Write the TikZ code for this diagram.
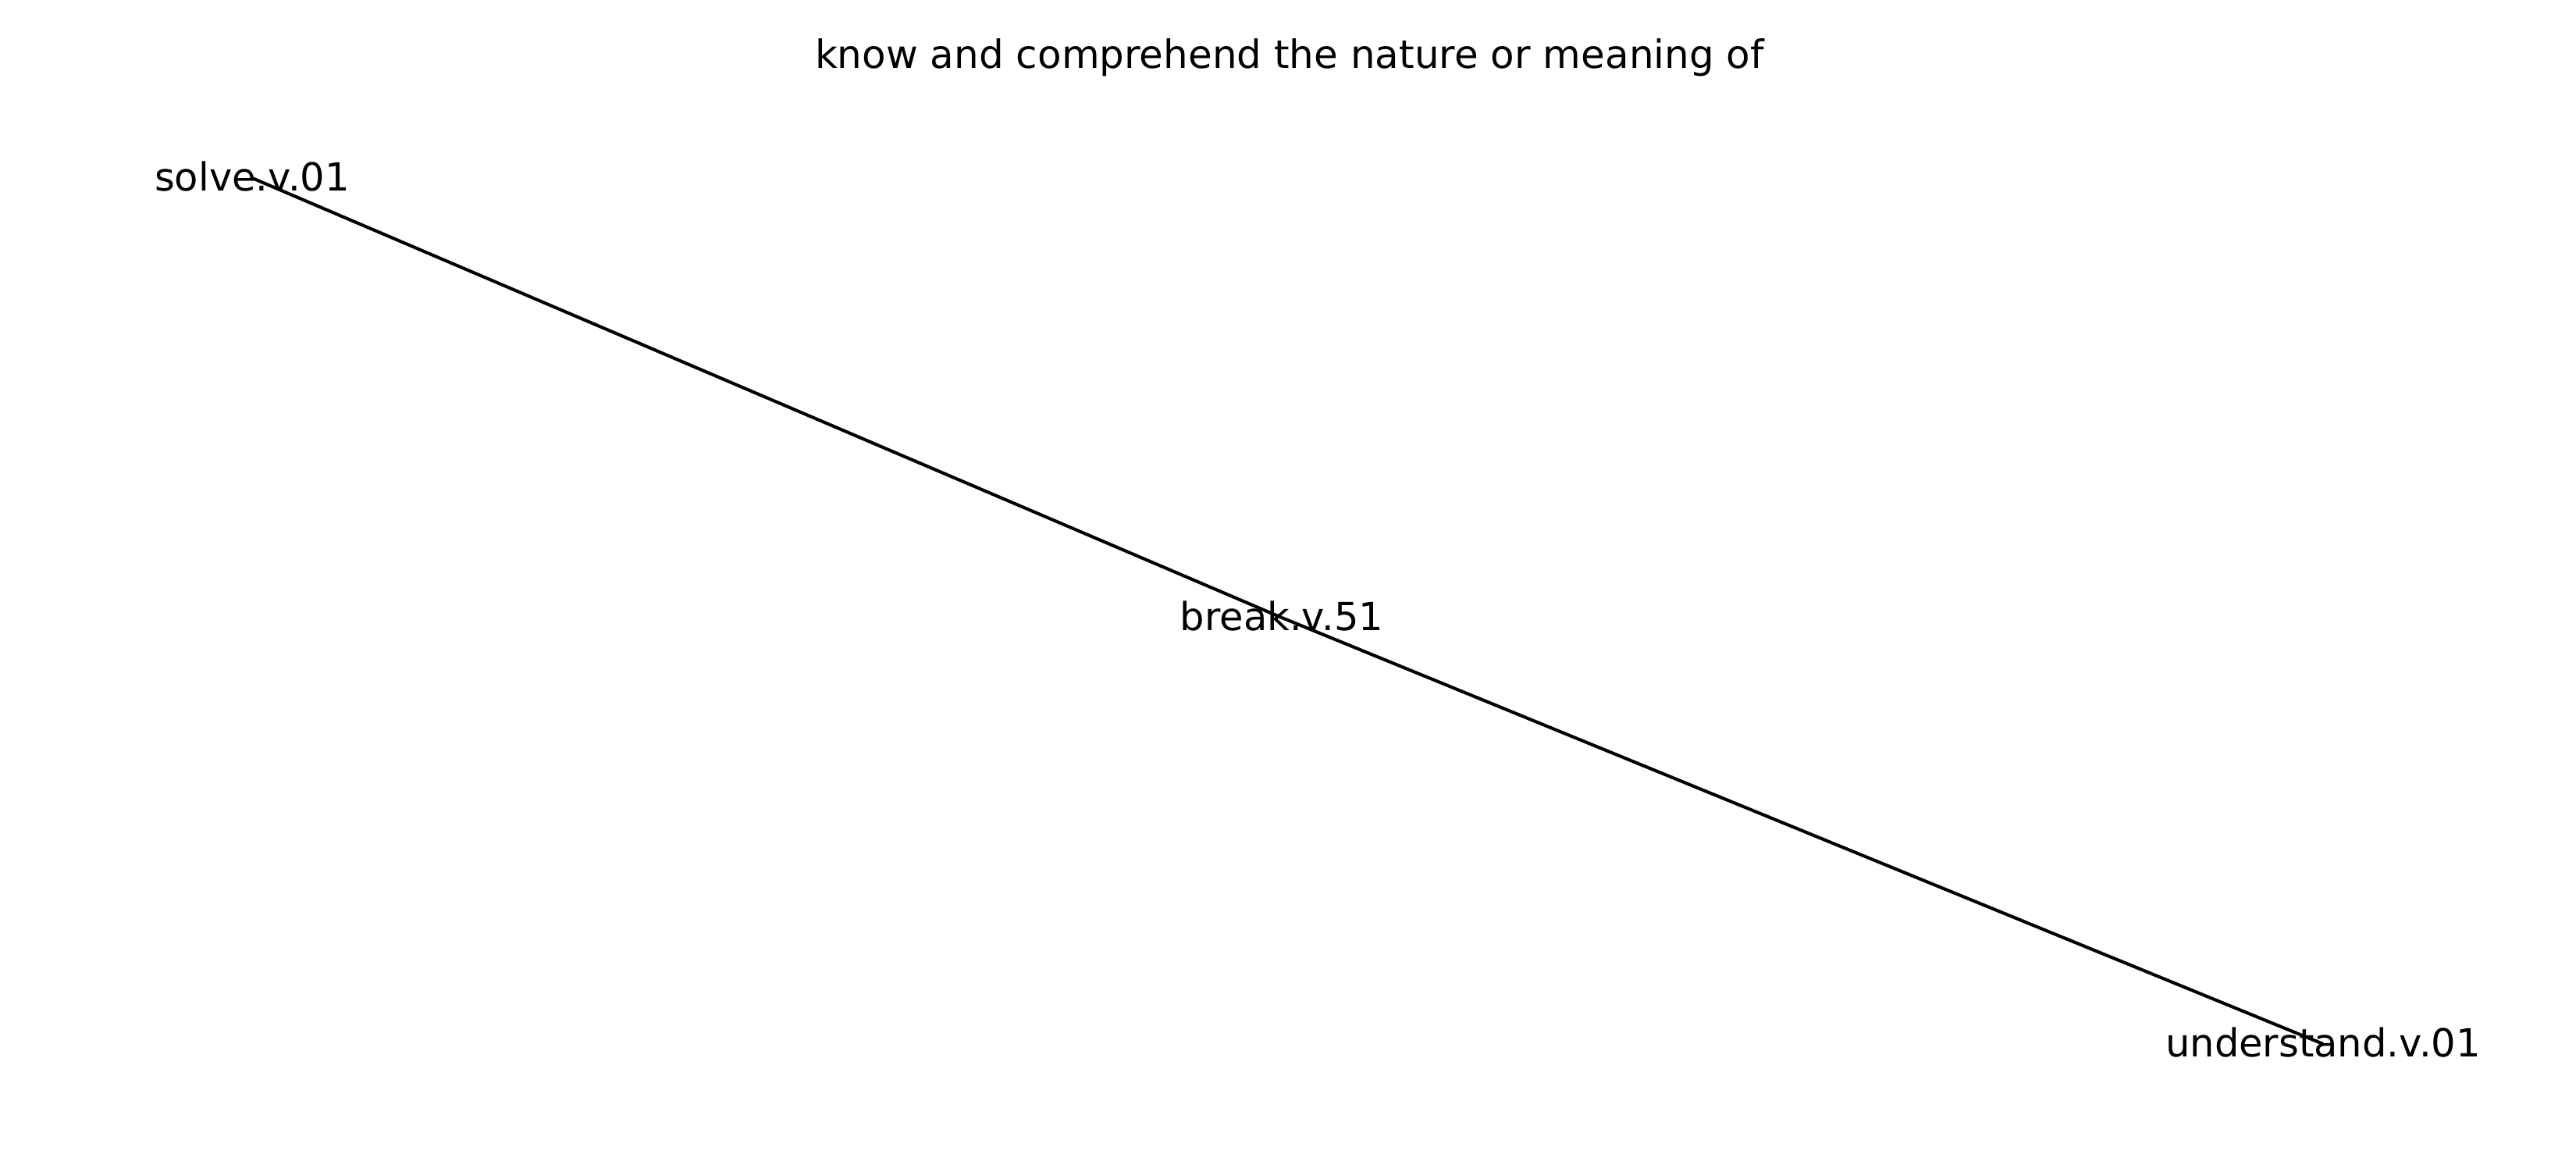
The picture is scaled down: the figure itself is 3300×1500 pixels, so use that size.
\documentclass[tikz,border=0pt]{standalone}
\usepackage{fontspec}
\setmainfont{DejaVu Sans}
\begin{document}
\begin{tikzpicture}[x=0.01in,y=-0.01in,
  lbl/.style={inner sep=0pt, outer sep=0pt, text height=0.32in, text depth=0pt,
    font=\fontsize{35.8}{42}\selectfont, text=black},
  edge/.style={draw=black, line width=0.041in}]
\useasboundingbox[fill=white] (0,0) rectangle (3300,1500);
\node[inner sep=0pt, anchor=base, font=\fontsize{36.1}{42}\selectfont] (title) at (1652,87) {know and comprehend the nature or meaning of};
\node[lbl] (solve) at (323,228) {solve.v.01};
\node[lbl] (break) at (1642,791) {break.v.51};
\node[lbl] (understand) at (2976,1337) {understand.v.01};
\draw[edge] (solve.center) -- (break.center);
\draw[edge] (break.center) -- (understand.center);
\end{tikzpicture}
\end{document}
